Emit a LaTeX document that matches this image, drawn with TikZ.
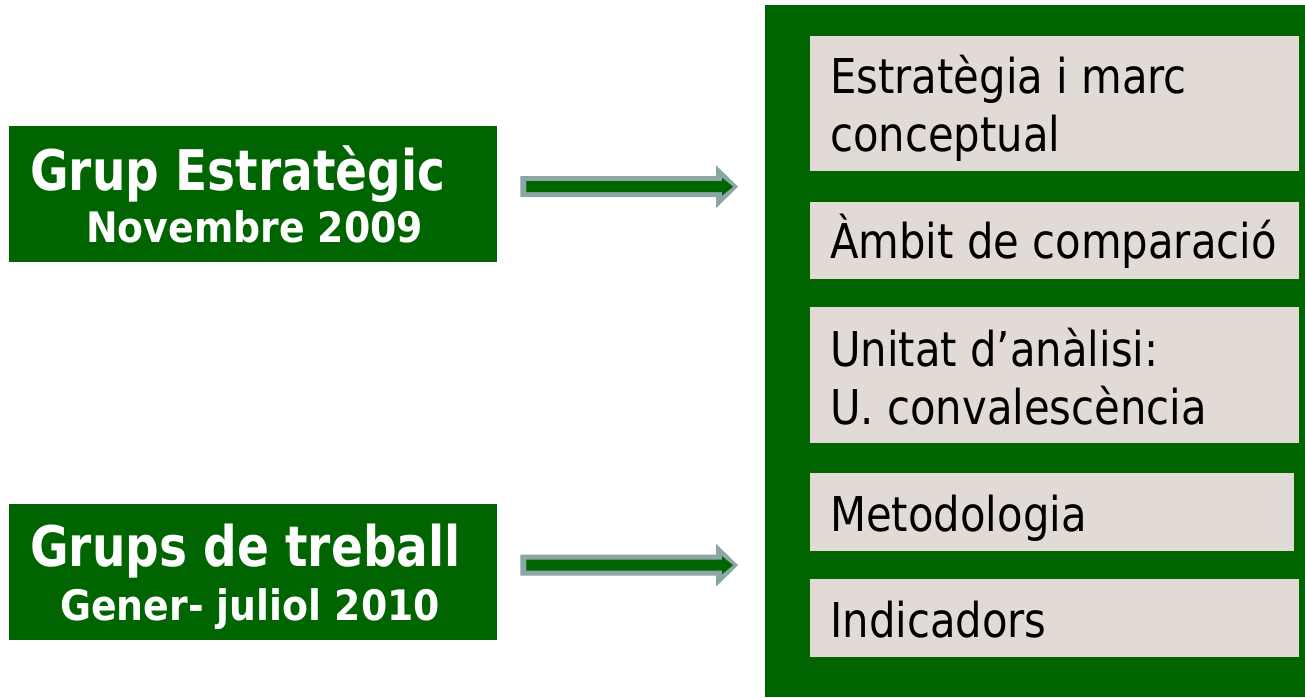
\documentclass[tikz,border=0pt]{standalone}
\usepackage{fontspec}
\setmainfont{DejaVu Sans}
\newfontfamily\itemfont{DejaVu Sans}[FakeStretch=0.87]
\newfontfamily\grupfont{DejaVu Sans Bold}[FakeStretch=0.84]
\newfontfamily\datafont{DejaVu Sans Bold}[FakeStretch=0.9]
\usetikzlibrary{calc}

\definecolor{verd}{RGB}{0,100,0}
\definecolor{beix}{RGB}{226,218,212}
\definecolor{grisblau}{RGB}{140,165,165}

\tikzset{
	grupbox/.style={fill=verd, minimum width=488pt, minimum height=136pt, inner sep=0pt, anchor=north west},
	itembox/.style={fill=beix, minimum width=489pt, inner sep=0pt, anchor=north west},
	grantitol/.style={text=white, inner sep=0pt, anchor=base west, font={\grupfont\fontsize{56pt}{60pt}\selectfont}},
	subtitol/.style={text=white, inner sep=0pt, anchor=base west, font={\datafont\fontsize{42pt}{46pt}\selectfont}},
	itemtext/.style={inner sep=0pt, anchor=north west, align=left, font={\itemfont\fontsize{48pt}{58pt}\selectfont}},
	vora/.style={fill=grisblau},
	cos/.style={fill=verd}
}

\begin{document}
\begin{tikzpicture}[x=1pt, y=-1pt]
		\useasboundingbox (0,0) rectangle (1305,697);

		% caixes de l'esquerra
		\node[grupbox] (grup) at (9,126) {};
		\node[grantitol] (grup-t) at ($(grup.north west)+(21,64)$) {Grup Estratègic};
		\node[subtitol] (grup-d) at ($(grup.north west)+(77,116)$) {Novembre 2009};

		\node[grupbox] (grups) at (9,504) {};
		\node[grantitol] (grups-t) at ($(grups.north west)+(21,62)$) {Grups de treball};
		\node[subtitol] (grups-d) at ($(grups.north west)+(51,116)$) {Gener- juliol 2010};

		% columna verda
		\node[fill=verd, minimum width=540pt, minimum height=692pt, inner sep=0pt, anchor=north west] (panel) at (765,5) {};

		\node[itembox, minimum height=135pt] (estrat) at (810,36) {};
		\node[itembox, minimum height=77pt] (ambit) at (810,202) {};
		\node[itembox, minimum height=136pt] (unitat) at (810,307) {};
		\node[itembox, minimum width=484pt, minimum height=78pt] (metode) at (810,473) {};
		\node[itembox, minimum height=78pt] (indic) at (810,579) {};

		\node[itemtext] (estrat-t) at ($(estrat.north west)+(20,0)$) {\rule{0pt}{57pt}Estratègia i marc\\conceptual};
		\node[itemtext] (ambit-t) at ($(ambit.north west)+(20,0)$) {\rule{0pt}{56pt}Àmbit de comparació};
		\node[itemtext] (unitat-t) at ($(unitat.north west)+(20,0)$) {\rule{0pt}{59pt}Unitat d’anàlisi:\\U. convalescència};
		\node[itemtext] (metode-t) at ($(metode.north west)+(20,0)$) {\rule{0pt}{58pt}Metodologia};
		\node[itemtext] (indic-t) at ($(indic.north west)+(20,0)$) {\rule{0pt}{58pt}Indicadors};

		% fletxes
		\coordinate (f1) at ($(grup.east)+(23,-7.5)$);
		\coordinate (f1e) at ($(panel.west |- f1)+(-27,0)$);
		\fill[vora] ($(f1)+(0,-10.5)$) -- ($(f1e)+(-22,-10.5)$) -- ($(f1e)+(-22,-21.5)$) -- (f1e)
			-- ($(f1e)+(-22,21.5)$) -- ($(f1e)+(-22,10.5)$) -- ($(f1)+(0,10.5)$) -- cycle;
		\fill[cos] ($(f1)+(6,-5.5)$) -- ($(f1e)+(-16,-5.5)$) -- ($(f1e)+(-16,-9)$) -- ($(f1e)+(-5,0)$)
			-- ($(f1e)+(-16,9)$) -- ($(f1e)+(-16,5.5)$) -- ($(f1)+(6,5.5)$) -- cycle;

		\coordinate (f2) at ($(grups.east)+(23,-7)$);
		\coordinate (f2e) at ($(panel.west |- f2)+(-27,0)$);
		\fill[vora] ($(f2)+(0,-10.5)$) -- ($(f2e)+(-22,-10.5)$) -- ($(f2e)+(-22,-21.5)$) -- (f2e)
			-- ($(f2e)+(-22,21.5)$) -- ($(f2e)+(-22,10.5)$) -- ($(f2)+(0,10.5)$) -- cycle;
		\fill[cos] ($(f2)+(6,-5.5)$) -- ($(f2e)+(-16,-5.5)$) -- ($(f2e)+(-16,-9)$) -- ($(f2e)+(-5,0)$)
			-- ($(f2e)+(-16,9)$) -- ($(f2e)+(-16,5.5)$) -- ($(f2)+(6,5.5)$) -- cycle;

	\end{tikzpicture}
\end{document}
